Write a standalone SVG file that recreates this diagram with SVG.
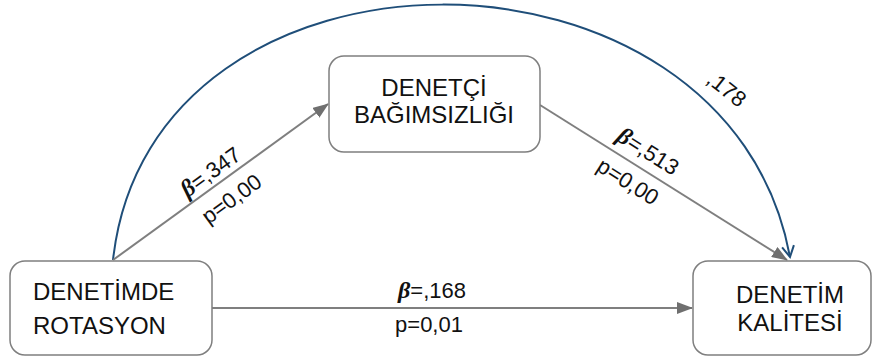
<svg xmlns="http://www.w3.org/2000/svg" width="875" height="358" viewBox="0 0 875 358">
  <style>
    .box { fill: #ffffff; stroke: #7f7f7f; stroke-width: 1.5; }
    .label { font-family: "Liberation Sans", Arial, sans-serif; font-size: 24px; fill: #111111; }
    .edge-label { font-family: "Liberation Sans", Arial, sans-serif; font-size: 22px; fill: #111111; }
    .beta { font-family: "Liberation Serif", "DejaVu Serif", serif; font-weight: bold; font-style: italic; font-size: 24px; }
    .path-gray { fill: none; stroke: #7f7f7f; stroke-width: 2; }
    .path-arc { fill: none; stroke: #1f4e79; stroke-width: 2; }
  </style>
  <defs>
    <marker id="tri" markerUnits="userSpaceOnUse" markerWidth="16" markerHeight="12" refX="15" refY="6" orient="auto">
      <path d="M0,0 L16,6 L0,12 Z" fill="#6f6f6f"/>
    </marker>
    <marker id="vee" markerUnits="userSpaceOnUse" markerWidth="14" markerHeight="14" refX="12" refY="7" orient="auto">
      <path d="M1,1 L12,7 L1,13" fill="none" stroke="#1f4e79" stroke-width="2"/>
    </marker>
  </defs>

  <g id="connectors">
    <path class="path-arc" d="M113,260 C150,-80 728,-80 790,257" marker-end="url(#vee)"/>
    <line class="path-gray" x1="113" y1="260" x2="328" y2="104" marker-end="url(#tri)"/>
    <line class="path-gray" x1="540" y1="105" x2="787" y2="260" marker-end="url(#tri)"/>
    <line class="path-gray" x1="212" y1="308" x2="692" y2="308" marker-end="url(#tri)"/>

    <text class="edge-label" text-anchor="middle" transform="translate(215,178) rotate(-35.8)"><tspan class="beta">β</tspan>=,347</text>
    <text class="edge-label" text-anchor="middle" transform="translate(236,205) rotate(-35.8)">p=0,00</text>
    <text class="edge-label" text-anchor="middle" transform="translate(644,158) rotate(32.3)"><tspan class="beta">β</tspan>=,513</text>
    <text class="edge-label" text-anchor="middle" transform="translate(624,188) rotate(32.3)">p=0,00</text>
    <text class="edge-label" text-anchor="middle" transform="translate(722,95) rotate(38)">,178</text>
    <text class="edge-label" text-anchor="middle" x="432" y="298"><tspan class="beta">β</tspan>=,168</text>
    <text class="edge-label" text-anchor="middle" x="429" y="332">p=0,01</text>
  </g>

  <g id="node-rotasyon">
    <rect class="box" x="10" y="261" width="202" height="94" rx="15"/>
    <text class="label" x="33" y="300">DENETİMDE</text>
    <text class="label" x="33" y="334">ROTASYON</text>
  </g>

  <g id="node-bagimsizlik">
    <rect class="box" x="329" y="56" width="211" height="96" rx="15"/>
    <text class="label" text-anchor="middle" x="434" y="96">DENETÇİ</text>
    <text class="label" text-anchor="middle" x="434" y="123">BAĞIMSIZLIĞI</text>
  </g>

  <g id="node-kalite">
    <rect class="box" x="693" y="261" width="178" height="94" rx="15"/>
    <text class="label" text-anchor="middle" x="790" y="303">DENETİM</text>
    <text class="label" text-anchor="middle" x="790" y="331">KALİTESİ</text>
  </g>
</svg>
